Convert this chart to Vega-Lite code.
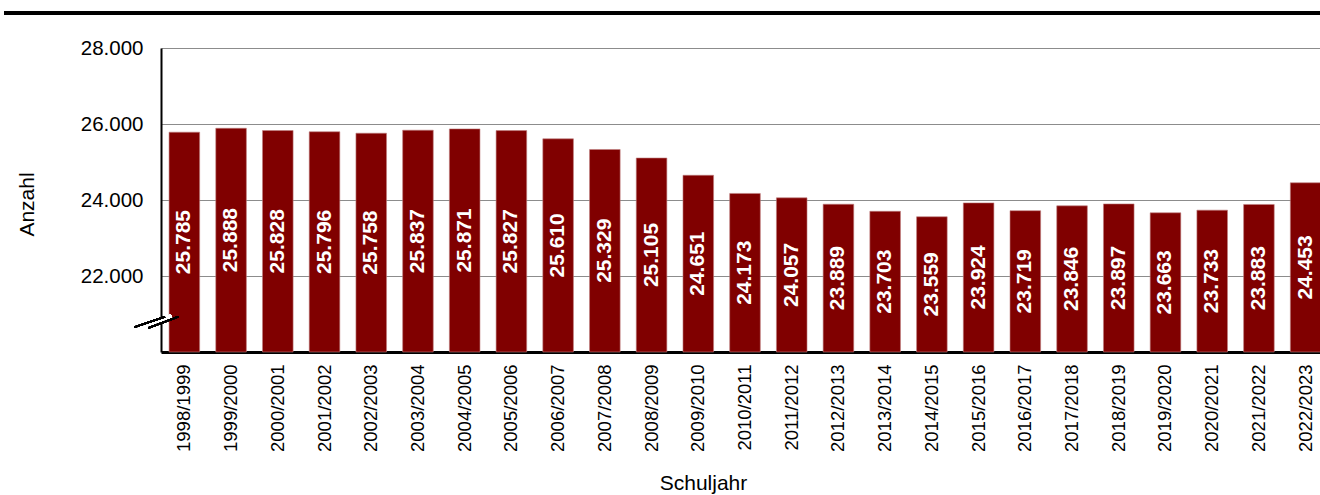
{
  "$schema": "https://vega.github.io/schema/vega-lite/v6.json",
  "autosize": {"type": "none"},
  "padding": {"left": 161, "top": 48, "right": 0, "bottom": 143},
  "width": 1168,
  "height": 304,
  "config": {
    "font": "Liberation Sans",
    "locale": {"number": {"decimal": ",", "thousands": ".", "grouping": [3], "currency": ["", " €"]}},
    "view": {"stroke": null}
  },
  "data": {"values": [
    {"jahr": "1998/1999", "anzahl": 25785},
    {"jahr": "1999/2000", "anzahl": 25888},
    {"jahr": "2000/2001", "anzahl": 25828},
    {"jahr": "2001/2002", "anzahl": 25796},
    {"jahr": "2002/2003", "anzahl": 25758},
    {"jahr": "2003/2004", "anzahl": 25837},
    {"jahr": "2004/2005", "anzahl": 25871},
    {"jahr": "2005/2006", "anzahl": 25827},
    {"jahr": "2006/2007", "anzahl": 25610},
    {"jahr": "2007/2008", "anzahl": 25329},
    {"jahr": "2008/2009", "anzahl": 25105},
    {"jahr": "2009/2010", "anzahl": 24651},
    {"jahr": "2010/2011", "anzahl": 24173},
    {"jahr": "2011/2012", "anzahl": 24057},
    {"jahr": "2012/2013", "anzahl": 23889},
    {"jahr": "2013/2014", "anzahl": 23703},
    {"jahr": "2014/2015", "anzahl": 23559},
    {"jahr": "2015/2016", "anzahl": 23924},
    {"jahr": "2016/2017", "anzahl": 23719},
    {"jahr": "2017/2018", "anzahl": 23846},
    {"jahr": "2018/2019", "anzahl": 23897},
    {"jahr": "2019/2020", "anzahl": 23663},
    {"jahr": "2020/2021", "anzahl": 23733},
    {"jahr": "2021/2022", "anzahl": 23883},
    {"jahr": "2022/2023", "anzahl": 24453}
  ]},
  "layer": [
    {
      "encoding": {
        "x": {
          "field": "jahr", "type": "nominal", "sort": null,
          "scale": {"paddingInner": 0.345, "paddingOuter": 0.1725},
          "axis": {
            "title": "Schuljahr", "titleFontSize": 21, "titleFontWeight": "normal", "titleColor": "#000000",
            "titleX": 542, "titleY": 137, "titleBaseline": "alphabetic", "titleAlign": "center",
            "labelAngle": -90, "labelFontSize": 18.5, "labelColor": "#000000", "labelPadding": 12,
            "ticks": false, "domainColor": "#000000", "domainWidth": 3
          }
        }
      },
      "layer": [
        {
          "mark": {"type": "bar", "color": "#800000", "stroke": "#c08080", "strokeWidth": 0.6},
          "encoding": {
            "y": {
              "field": "anzahl", "type": "quantitative",
              "scale": {"domain": [20000, 28000], "zero": false, "nice": false},
              "axis": {
                "values": [22000, 24000, 26000, 28000], "format": ",d",
                "title": "Anzahl", "titleFontSize": 21, "titleFontWeight": "normal", "titleColor": "#000000",
                "titleX": -128, "titleY": 156, "titleBaseline": "alphabetic", "titleAngle": 270, "titleAlign": "center",
                "labelFontSize": 20.5, "labelColor": "#000000", "labelPadding": 18,
                "ticks": false, "domainColor": "#000000", "domainWidth": 2,
                "grid": true, "gridColor": "#8c8c8c", "gridWidth": 1
              }
            },
            "y2": {"datum": 20000}
          }
        },
        {
          "transform": [{"calculate": "(datum.anzahl + 20000) / 2", "as": "mitte"}],
          "mark": {"type": "text", "angle": 270, "align": "center", "baseline": "middle", "color": "#ffffff", "fontWeight": "bold", "fontSize": 21},
          "encoding": {
            "y": {"field": "mitte", "type": "quantitative"},
            "text": {"field": "anzahl", "type": "quantitative", "format": ",d"}
          }
        }
      ]
    },
    {
      "encoding": {
        "x": {"type": "quantitative", "scale": {"domain": [0, 1], "nice": false, "zero": false}, "axis": null}
      },
      "layer": [
        {
          "mark": {"type": "rule", "color": "#000000", "strokeWidth": 4, "clip": false},
          "encoding": {
            "x": {"datum": -0.1344, "type": "quantitative"},
            "x2": {"datum": 1},
            "y": {"datum": 28921}
          }
        },
        {
          "mark": {"type": "rule", "color": "#ffffff", "strokeWidth": 5, "clip": false},
          "encoding": {
            "x": {"datum": -0.0169, "type": "quantitative"},
            "x2": {"datum": 0.0091},
            "y": {"datum": 20642},
            "y2": {"datum": 20929}
          }
        },
        {
          "mark": {"type": "rule", "color": "#000000", "strokeWidth": 1.6, "clip": false},
          "encoding": {
            "x": {"datum": -0.0229, "type": "quantitative"},
            "x2": {"datum": 0.0034},
            "y": {"datum": 20650},
            "y2": {"datum": 20929}
          }
        },
        {
          "mark": {"type": "rule", "color": "#000000", "strokeWidth": 1.6, "clip": false},
          "encoding": {
            "x": {"datum": -0.0109, "type": "quantitative"},
            "x2": {"datum": 0.0148},
            "y": {"datum": 20632},
            "y2": {"datum": 20929}
          }
        }
      ]
    }
  ],
  "resolve": {"scale": {"x": "independent"}, "axis": {"x": "independent"}}
}
